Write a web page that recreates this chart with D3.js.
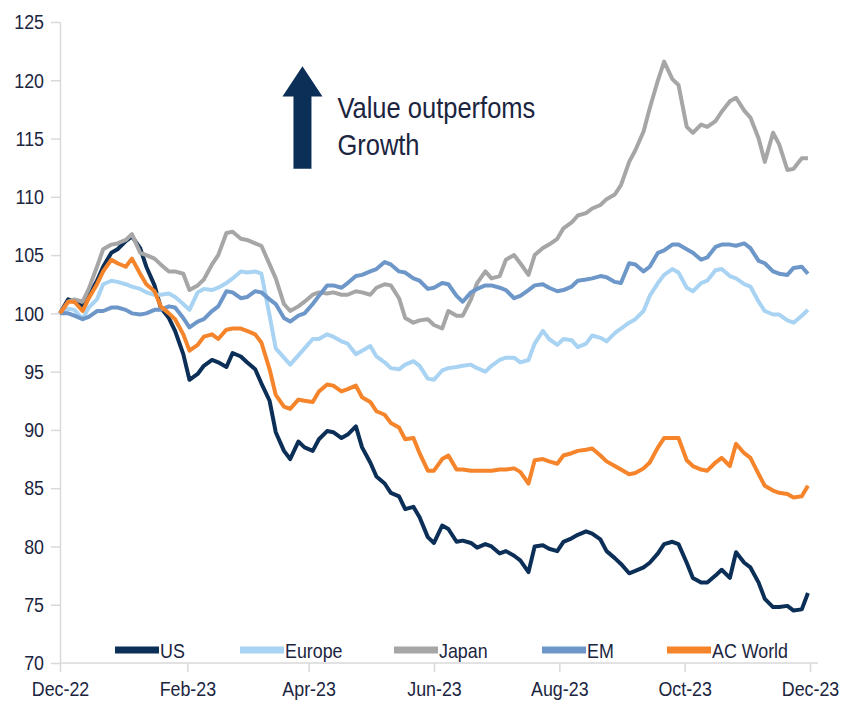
<!DOCTYPE html>
<html>
<head>
<meta charset="utf-8">
<script src="https://cdn.jsdelivr.net/npm/d3@7"></script>
<style>
  body { margin: 0; background: #fff; }
  svg { display: block; }
  text { font-family: "Liberation Sans", Arial, sans-serif; }
</style>
</head>
<body>
<div id="chart"></div>
<script>
// twice-weekly observations, rebased to 100
var dates = [
  "2022-12-01","2022-12-05","2022-12-08","2022-12-12","2022-12-15","2022-12-19","2022-12-22","2022-12-26","2022-12-29","2023-01-02",
  "2023-01-05","2023-01-09","2023-01-12","2023-01-16","2023-01-19","2023-01-23","2023-01-26","2023-01-30","2023-02-02","2023-02-06",
  "2023-02-09","2023-02-13","2023-02-16","2023-02-20","2023-02-23","2023-02-27","2023-03-02","2023-03-06","2023-03-09","2023-03-13",
  "2023-03-16","2023-03-20","2023-03-23","2023-03-27","2023-03-30","2023-04-03","2023-04-06","2023-04-10","2023-04-13","2023-04-17",
  "2023-04-20","2023-04-24","2023-04-27","2023-05-01","2023-05-04","2023-05-08","2023-05-11","2023-05-15","2023-05-18","2023-05-22",
  "2023-05-25","2023-05-29","2023-06-01","2023-06-05","2023-06-08","2023-06-12","2023-06-15","2023-06-19","2023-06-22","2023-06-26",
  "2023-06-29","2023-07-03","2023-07-06","2023-07-10","2023-07-13","2023-07-17","2023-07-20","2023-07-24","2023-07-27","2023-07-31",
  "2023-08-03","2023-08-07","2023-08-10","2023-08-14","2023-08-17","2023-08-21","2023-08-24","2023-08-28","2023-08-31","2023-09-04",
  "2023-09-07","2023-09-11","2023-09-14","2023-09-18","2023-09-21","2023-09-25","2023-09-28","2023-10-02","2023-10-05","2023-10-09",
  "2023-10-12","2023-10-16","2023-10-19","2023-10-23","2023-10-26","2023-10-30","2023-11-02","2023-11-06","2023-11-09","2023-11-13",
  "2023-11-16","2023-11-20","2023-11-23","2023-11-27","2023-11-30"];

var us = [
  100,101.2, 101,100.6, 101.5,102.8, 104,105.2, 105.5,106.2,
  106.6,105.6, 104,102.4, 100.5,99.6, 98.5,96.5, 94.3,94.8,
  95.5,96.0, 95.8,95.4, 96.6,96.3, 95.8,95.2, 94,92.5,
  89.8,88.2, 87.5,89.0, 88.5,88.2, 89.2,89.9, 89.8,89.3,
  89.6,90.3, 88.5,87.2, 86,85.4, 84.6,84.3, 83.2,83.4,
  82.5,80.8, 80.3,81.8, 81.5,80.4, 80.5,80.3, 79.9,80.2,
  80,79.4, 79.6,79.2, 78.8,77.8, 80,80.1, 79.8,79.6,
  80.4,80.7, 81,81.3, 81.1,80.6, 79.6,79.0, 78.5,77.7,
  77.9,78.2, 78.6,79.4, 80.2,80.4, 80.2,78.6, 77.3,76.9,
  76.9,77.5, 78,77.3, 79.5,78.6, 78.2,76.9, 75.5,74.8,
  74.8,74.9, 74.5,74.6, 76];
var europe = [
  100,100.4, 100.3,99.5, 100.5,101.2, 102.5,102.8, 102.7,102.5,
  102.3,102.1, 101.8,101.6, 101.6,101.7, 101.4,100.8, 100.3,101.8,
  102.1,102.0, 102.2,102.6, 103,103.6, 103.5,103.6, 103.4,99.8,
  97,96.2, 95.6,96.4, 97,97.8, 97.8,98.2, 98,97.6,
  97.4,96.5, 96.8,97.2, 96.3,95.8, 95.3,95.2, 95.6,95.9,
  95.5,94.4, 94.3,95.1, 95.3,95.4, 95.5,95.6, 95.3,95.0,
  95.5,96.0, 96.2,96.2, 95.8,96.0, 97.4,98.5, 97.8,97.3,
  97.8,97.7, 97.1,97.4, 98.1,97.9, 97.6,98.3, 98.7,99.2,
  99.5,100.2, 101.5,102.6, 103.3,103.8, 103.5,102.2, 101.9,102.6,
  102.8,103.7, 103.8,103.2, 103,102.5, 102.3,101.0, 100.2,99.9,
  99.9,99.4, 99.2,99.8, 100.3];
var japan = [
  100,101.0, 101.2,101.0, 102.1,104.0, 105.5,105.9, 106,106.3,
  106.8,105.2, 105,104.7, 104.2,103.6, 103.6,103.4, 102,102.4,
  102.9,104.2, 105,106.9, 107,106.4, 106.3,106.0, 105.8,104.2,
  103,100.8, 100.2,100.6, 101,101.6, 101.8,101.7, 101.8,101.6,
  101.6,101.9, 101.8,101.6, 102.2,102.5, 102.4,101.3, 99.6,99.2,
  99.4,99.5, 99,98.7, 100.2,99.8, 99.8,101.2, 102.6,103.6,
  103,103.2, 104.6,105.0, 104.3,103.3, 105,105.6, 105.9,106.4,
  107.3,107.8, 108.4,108.6, 109,109.3, 109.8,110.2, 111,113.0,
  114,115.6, 117.6,120.0, 121.6,120.1, 119.6,116.0, 115.5,116.2,
  116,116.5, 117.3,118.2, 118.5,117.4, 116.8,115.0, 113,115.5,
  114.5,112.3, 112.4,113.3, 113.3];
var em = [
  100,100.0, 99.8,99.5, 99.7,100.2, 100.2,100.5, 100.5,100.3,
  100,99.9, 100,100.3, 100.3,100.6, 100.5,99.6, 98.8,99.3,
  99.5,100.2, 100.6,101.9, 101.8,101.3, 101.4,101.9, 101.8,101.2,
  100.8,99.6, 99.3,99.8, 100,100.8, 101.5,102.4, 102.4,102.2,
  102.6,103.2, 103.3,103.6, 103.8,104.4, 104.2,103.6, 103.5,103.0,
  102.8,102.1, 102.2,102.6, 102.5,101.5, 101,101.8, 102.1,102.4,
  102.4,102.2, 102,101.3, 101.5,102.0, 102.4,102.5, 102.2,101.9,
  102,102.3, 102.8,102.9, 103,103.2, 103.1,102.7, 102.6,104.3,
  104.2,103.6, 104,105.2, 105.4,105.9, 105.9,105.5, 105.2,104.6,
  104.8,105.7, 105.9,105.9, 105.8,106.0, 105.6,104.5, 104.3,103.6,
  103.4,103.3, 103.9,104.0, 103.4];
var acWorld = [
  100,101.0, 101,100.2, 101.3,102.5, 103.6,104.6, 104.3,104.0,
  104.7,103.4, 102.5,101.9, 100.6,100.0, 99.5,98.2, 96.8,97.3,
  98,98.2, 97.8,98.6, 98.7,98.7, 98.5,98.2, 97.5,95.2,
  93,92.0, 91.8,92.6, 92.5,92.4, 93.3,93.9, 93.8,93.3,
  93.5,93.8, 92.8,92.4, 91.6,91.3, 90.6,90.2, 89.2,89.3,
  88,86.5, 86.5,87.5, 87.8,86.6, 86.6,86.5, 86.5,86.5,
  86.5,86.6, 86.6,86.7, 86.4,85.4, 87.4,87.5, 87.3,87.1,
  87.8,88.0, 88.2,88.3, 88.4,87.8, 87.3,86.9, 86.6,86.2,
  86.3,86.7, 87.2,88.5, 89.3,89.3, 89.3,87.4, 86.9,86.6,
  86.5,87.2, 87.6,86.9, 88.8,88.0, 87.6,86.2, 85.2,84.8,
  84.6,84.5, 84.2,84.3, 85.2];

var seriesNames = ["US", "Europe", "Japan", "EM", "AC World"];
var seriesValues = [us, europe, japan, em, acWorld];
var seriesColors = ["#0c2f58", "#a9d3f2", "#a6a6a6", "#6e97c9", "#f5842b"];

var yTicks = [70, 75, 80, 85, 90, 95, 100, 105, 110, 115, 120, 125];
var xTicks = ["2022-12-01","2023-02-01","2023-04-01","2023-06-01","2023-08-01","2023-10-01","2023-12-01"];

var width = 842, height = 711;
var parse = d3.timeParse("%Y-%m-%d");
var textColor = "#1b2540";
var axisColor = "#d9d9d9";
var squeeze = 0.85; // the source font is a narrow one

var svg = d3.select("#chart").append("svg")
  .attr("width", width)
  .attr("height", height);

var x = d3.scaleTime()
  .domain([parse("2022-12-01"), parse("2023-12-01")])
  .range([60, 810]);

var y = d3.scaleLinear()
  .domain([70, 125])
  .range([663, 22]);

// y axis
var yAxis = svg.append("g")
  .attr("transform", "translate(60,0)")
  .call(d3.axisLeft(y).tickValues(yTicks).tickSize(9).tickSizeOuter(0).tickPadding(7));
yAxis.select(".domain").attr("stroke", axisColor).attr("stroke-width", 1.5);
yAxis.selectAll(".tick line").attr("stroke", axisColor).attr("stroke-width", 1.5);
yAxis.selectAll(".tick text")
  .attr("fill", textColor)
  .attr("x", -16 / squeeze)
  .attr("transform", "scale(" + squeeze + ",1)")
  .style("font-size", "21px")
  .style("font-family", "'Liberation Sans', Arial, sans-serif");

// x axis
var xAxis = svg.append("g")
  .attr("transform", "translate(0,663)")
  .call(d3.axisBottom(x).tickValues(xTicks.map(parse)).tickFormat(d3.timeFormat("%b-%y"))
    .tickSize(9).tickSizeOuter(0).tickPadding(9));
xAxis.select(".domain").remove();
xAxis.append("line")
  .attr("x1", 60).attr("x2", 818)
  .attr("stroke", axisColor).attr("stroke-width", 1.5);
xAxis.selectAll(".tick line").attr("stroke", axisColor).attr("stroke-width", 1.5);
xAxis.selectAll(".tick text")
  .attr("fill", textColor)
  .attr("transform", "scale(" + squeeze + ",1)")
  .style("font-size", "21px")
  .style("font-family", "'Liberation Sans', Arial, sans-serif");

// lines
var line = d3.line()
  .x(function(d, i) { return x(parse(dates[i])); })
  .y(function(d) { return y(d); });

svg.append("g").selectAll("path")
  .data(seriesValues)
  .join("path")
  .attr("d", line)
  .attr("fill", "none")
  .attr("stroke", function(d, i) { return seriesColors[i]; })
  .attr("stroke-width", 4)
  .attr("stroke-linejoin", "round");

// annotation arrow
var ax = x(parse("2023-03-29"));
var headY = y(118.6), tipY = y(121.2), baseY = y(112.4);
svg.append("path")
  .attr("d", "M" + ax + "," + tipY +
    " L" + (ax + 20) + "," + headY +
    " L" + (ax + 9) + "," + headY +
    " L" + (ax + 9) + "," + baseY +
    " L" + (ax - 9) + "," + baseY +
    " L" + (ax - 9) + "," + headY +
    " L" + (ax - 20) + "," + headY + " Z")
  .attr("fill", "#0c2f58");

var note = svg.append("text")
  .attr("transform", "translate(" + x(parse("2023-04-15")) + "," + y(116.8) + ") scale(" + squeeze + ",1)")
  .attr("fill", textColor)
  .style("font-size", "30px");
note.append("tspan").attr("x", 0).text("Value outperfoms");
note.append("tspan").attr("x", 0).attr("dy", 37).text("Growth");

// legend
var legendX = [113, 238, 392, 540, 665];
var legend = svg.append("g").attr("transform", "translate(0,650)");
var item = legend.selectAll("g")
  .data(seriesNames)
  .join("g")
  .attr("transform", function(d, i) { return "translate(" + legendX[i] + ",0)"; });
item.append("line")
  .attr("x1", 2).attr("x2", 46)
  .attr("stroke", function(d, i) { return seriesColors[i]; })
  .attr("stroke-width", 7);
item.append("text")
  .attr("transform", "translate(47,0) scale(" + squeeze + ",1)")
  .attr("dy", "0.36em")
  .attr("fill", textColor)
  .style("font-size", "21px")
  .text(function(d) { return d; });
</script>
</body>
</html>
